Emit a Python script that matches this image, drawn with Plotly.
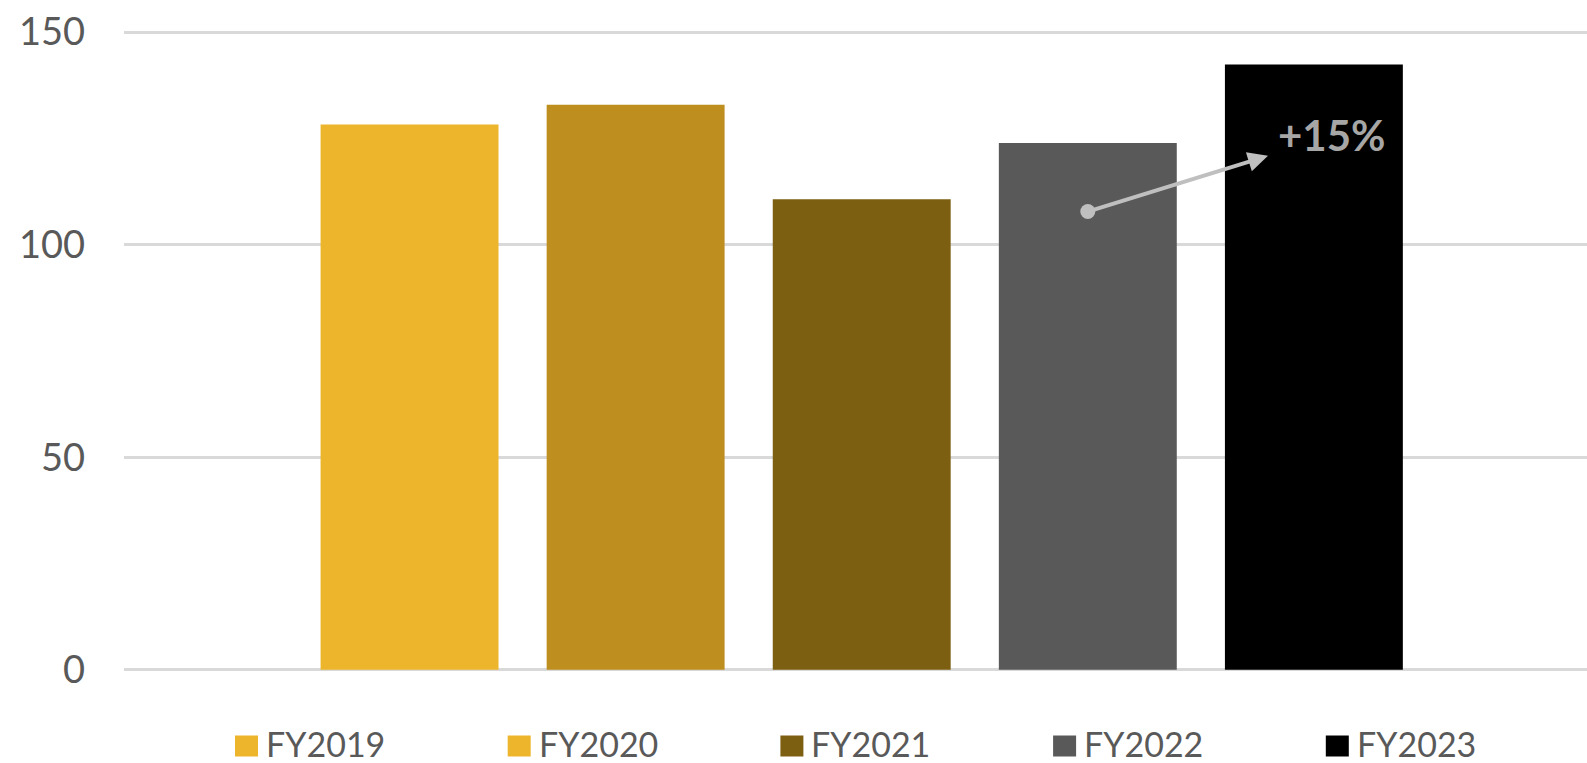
import plotly.graph_objects as go

# Fiscal years and their values
categories = ["FY2019", "FY2020", "FY2021", "FY2022", "FY2023"]
values = [128.3, 132.9, 110.7, 123.9, 142.4]
bar_colors = ["#EDB52B", "#BE8E1F", "#7D5F11", "#595959", "#000000"]
legend_colors = ["#EDB52B", "#EDB52B", "#7D5F11", "#595959", "#000000"]
y_ticks = [0, 50, 100, 150]
growth_label = "+15%"

W, H = 1587, 763
M_L, M_R, M_T, M_B = 124, 0, 30, 91
FONT = "Lato"
GREY_TXT = "#595959"


def px_x(p):
    return (p - M_L) / (W - M_L - M_R)


def px_y(p):
    return (H - M_B - p) / (H - M_T - M_B)


fig = go.Figure()

fig.add_trace(go.Bar(
    x=categories,
    y=values,
    marker=dict(color=bar_colors, line=dict(width=0)),
    showlegend=False,
    hoverinfo="x+y",
))

# Marker at the start of the growth arrow (FY2022 bar)
fig.add_trace(go.Scatter(
    x=[categories[3]],
    y=[107.8],
    mode="markers",
    marker=dict(size=15, color="#BFBFBF"),
    showlegend=False,
    hoverinfo="skip",
))

annotations = [
    dict(
        x=3.797, y=120.9, ax=3.0, ay=107.8,
        xref="x", yref="y", axref="x", ayref="y",
        text="", showarrow=True,
        arrowhead=2, arrowsize=1.0, arrowwidth=4, arrowcolor="#BFBFBF",
        standoff=0, startstandoff=0,
    ),
    dict(
        x=4.08, y=125.9, xref="x", yref="y",
        text=f"<b>{growth_label}</b>", showarrow=False,
        font=dict(family=FONT, size=42, color="#A6A6A6"),
        xanchor="center", yanchor="middle",
    ),
]

# Legend drawn as squares with labels underneath the plot
shapes = []
leg_left = 235
leg_step = 272.7
sq_w, sq_h = 23, 21
leg_cy = 746
for i, (name, col) in enumerate(zip(categories, legend_colors)):
    x0 = leg_left + i * leg_step
    shapes.append(dict(
        type="rect", xref="paper", yref="paper",
        x0=px_x(x0), x1=px_x(x0 + sq_w),
        y0=px_y(leg_cy - sq_h / 2), y1=px_y(leg_cy + sq_h / 2),
        fillcolor=col, line=dict(width=0),
    ))
    annotations.append(dict(
        x=px_x(x0 + sq_w + 7), y=px_y(H),
        xref="paper", yref="paper",
        text=name, showarrow=False,
        xanchor="left", yanchor="bottom",
        borderpad=0, yshift=-2,
        font=dict(family=FONT, size=34, color=GREY_TXT),
    ))

fig.update_layout(
    width=W, height=H,
    margin=dict(l=M_L, r=M_R, t=M_T, b=M_B, pad=0),
    paper_bgcolor="white",
    plot_bgcolor="white",
    bargap=0.213,
    showlegend=False,
    annotations=annotations,
    shapes=shapes,
    font=dict(family=FONT, color=GREY_TXT),
)

fig.update_xaxes(
    type="category",
    range=[-1.263, 5.208],
    showticklabels=False,
    showgrid=False,
    showline=False,
    zeroline=False,
    ticks="",
)

fig.update_yaxes(
    range=[-0.5, 150.5],
    tickvals=y_ticks,
    ticktext=[str(v) for v in y_ticks],
    showgrid=True,
    gridcolor="#D9D9D9",
    gridwidth=2.5,
    zeroline=False,
    showline=False,
    ticks="",
    ticklabelstandoff=38,
    tickfont=dict(family=FONT, size=38, color=GREY_TXT),
)

fig.write_html("out.html")
